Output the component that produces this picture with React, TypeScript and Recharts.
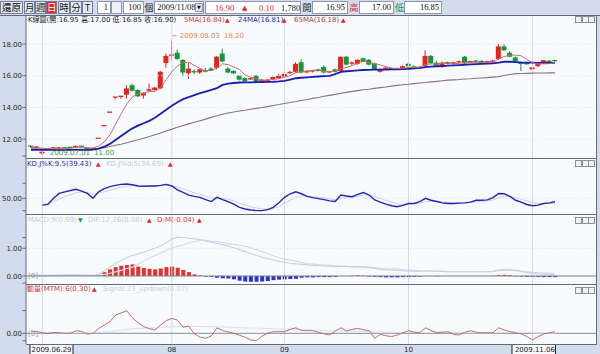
import React from 'react';
import { ComposedChart, Bar, Line, XAxis, YAxis, CartesianGrid, ReferenceLine, ReferenceDot, Cell } from 'recharts';

// ---- daily OHLC (2009.06.29 .. 2009.11.06) ----
const opens = [11.55,11.45,11.10,11.35,11.38,11.40,11.45,11.48,11.48,11.55,11.45,11.40,12.05,12.85,13.70,14.65,14.70,14.80,15.40,15.10,14.75,15.05,15.10,15.20,16.80,17.25,17.45,17.00,16.15,16.25,16.20,16.35,16.45,16.50,17.40,16.45,16.30,16.00,15.85,15.80,16.00,15.58,15.62,15.78,15.85,15.95,16.20,16.25,16.85,16.25,16.25,16.40,16.55,16.20,16.40,16.30,17.20,16.80,16.75,17.10,17.00,16.78,16.25,16.47,16.45,16.45,16.42,16.75,16.55,16.50,16.62,17.25,16.82,16.58,16.85,16.75,16.88,17.20,16.88,16.92,16.93,16.88,16.85,17.05,17.85,17.45,17.15,16.78,16.85,16.40,16.60,16.84,16.95,16.95];
const highs = [11.60,11.55,11.25,11.40,11.50,11.50,11.48,11.50,11.60,11.58,11.48,11.42,12.05,12.85,13.70,14.65,14.70,15.40,15.50,15.15,14.95,15.50,15.30,16.30,17.40,18.20,17.65,17.05,16.80,16.40,16.45,16.50,16.55,17.25,17.70,16.55,16.35,16.05,15.90,15.90,16.05,15.80,15.80,15.95,16.10,16.20,16.30,16.85,17.05,16.35,16.32,16.45,16.65,16.30,16.45,17.20,17.25,16.90,17.05,17.15,17.05,16.82,16.45,16.52,16.50,16.50,16.65,16.85,16.65,16.60,17.60,17.30,16.95,16.90,16.90,16.88,16.95,17.25,16.95,16.98,16.98,16.95,17.00,18.00,18.00,17.55,17.20,16.80,16.88,16.55,16.80,17.00,17.00,17.00];
const lows = [11.45,11.40,11.00,11.30,11.35,11.38,11.42,11.42,11.45,11.45,11.28,11.38,12.05,12.85,13.70,14.50,14.55,14.55,15.00,14.65,14.55,15.00,15.05,15.15,16.50,17.00,17.00,15.95,15.80,16.10,16.10,16.20,16.30,16.40,16.85,16.15,16.10,15.70,15.60,15.75,15.60,15.55,15.58,15.72,15.80,15.90,16.10,16.20,16.15,16.15,16.20,16.25,16.15,16.15,16.20,16.25,16.65,16.65,16.70,16.85,16.65,16.35,16.20,16.42,16.40,16.40,16.38,16.58,16.50,16.45,16.55,16.75,16.55,16.50,16.72,16.70,16.80,16.75,16.82,16.80,16.75,16.82,16.80,17.00,17.55,17.15,16.85,16.30,16.70,16.38,16.55,16.80,16.78,16.85];
const closes = [11.50,11.50,11.20,11.35,11.48,11.48,11.45,11.45,11.57,11.48,11.30,11.40,12.05,12.85,13.70,14.65,14.70,15.20,15.05,14.70,14.90,15.15,15.25,16.25,17.25,17.30,17.05,16.20,16.45,16.25,16.40,16.25,16.32,17.20,16.90,16.20,16.15,15.75,15.65,15.80,15.62,15.75,15.75,15.92,16.00,16.12,16.20,16.75,16.20,16.25,16.30,16.30,16.20,16.25,16.25,17.20,16.70,16.80,17.00,16.88,16.70,16.40,16.40,16.47,16.45,16.45,16.60,16.60,16.55,16.50,17.25,16.78,16.58,16.82,16.75,16.85,16.88,16.78,16.88,16.85,16.78,16.88,16.95,17.85,17.60,17.20,16.90,16.75,16.72,16.53,16.78,16.98,16.80,16.90];

// ---- moving averages ----
const ma5 = [11.48,11.47,11.42,11.40,11.41,11.40,11.39,11.42,11.49,11.49,11.45,11.44,11.56,11.82,12.26,12.93,13.59,14.22,14.66,14.86,14.91,15.00,15.01,15.25,15.75,16.24,16.62,16.81,16.85,16.65,16.47,16.31,16.33,16.48,16.75,16.70,16.55,16.40,16.05,15.90,15.79,15.71,15.71,15.77,15.81,15.91,16.00,16.20,16.25,16.30,16.34,16.36,16.25,16.26,16.26,16.44,16.52,16.64,16.79,16.92,16.82,16.76,16.68,16.57,16.48,16.45,16.47,16.51,16.53,16.54,16.70,16.74,16.73,16.79,16.84,16.76,16.78,16.82,16.83,16.85,16.83,16.83,16.87,17.06,17.21,17.30,17.30,17.26,17.03,16.82,16.74,16.75,16.76,16.84];
const ma24 = [11.33,11.33,11.32,11.32,11.31,11.31,11.31,11.32,11.32,11.32,11.31,11.33,11.40,11.52,11.70,11.95,12.20,12.45,12.68,12.85,13.00,13.15,13.35,13.60,13.85,14.10,14.32,14.52,14.65,14.78,14.90,15.00,15.10,15.22,15.42,15.50,15.54,15.57,15.58,15.58,15.59,15.60,15.61,15.62,15.64,15.68,15.76,15.84,15.87,15.90,15.93,15.95,15.97,15.99,16.10,16.24,16.28,16.31,16.34,16.36,16.37,16.38,16.38,16.39,16.40,16.40,16.42,16.44,16.46,16.50,16.54,16.57,16.59,16.61,16.63,16.65,16.67,16.69,16.71,16.73,16.75,16.77,16.78,16.82,16.88,16.88,16.86,16.84,16.83,16.82,16.81,16.81,16.81,16.81];
const ma65 = [11.38,11.37,11.37,11.36,11.36,11.36,11.36,11.35,11.35,11.35,11.35,11.36,11.39,11.46,11.53,11.61,11.68,11.77,11.87,11.96,12.06,12.16,12.27,12.39,12.51,12.63,12.75,12.86,12.96,13.06,13.16,13.26,13.37,13.47,13.57,13.65,13.71,13.77,13.82,13.88,13.94,13.99,14.05,14.12,14.18,14.25,14.31,14.37,14.44,14.50,14.57,14.63,14.70,14.76,14.82,14.89,14.95,15.01,15.06,15.11,15.15,15.20,15.25,15.29,15.34,15.39,15.43,15.46,15.50,15.54,15.57,15.61,15.64,15.68,15.72,15.74,15.76,15.79,15.81,15.84,15.86,15.88,15.91,15.94,16.01,16.08,16.13,16.14,16.15,16.16,16.17,16.17,16.18,16.18];

// ---- KD ----
const kLine = [null,null,29,31,50,65,70,74,78,72,65,50,70,80,86,90,93,94,92,88,87,88,88,90,93,88,76,68,60,56,53,46,40,53,46,40,32,22,17,14,12,12,15,22,36,53,64,70,64,56,52,49,46,42,40,60,57,55,62,68,60,45,38,32,27,24,28,34,34,40,50,44,40,36,34,34,35,36,38,44,44,45,52,65,64,56,44,38,31,27,29,34,36,39.43];
const dLine = [null,null,35,34,39,48,55,61,67,69,68,62,65,70,75,80,84,87,89,89,88,88,88,89,90,89,85,79,73,67,62,57,51,52,50,47,42,35,29,24,20,17,16,18,24,34,44,53,57,57,55,53,51,48,45,50,52,53,56,60,60,55,49,43,38,33,31,32,33,35,40,41,41,39,37,36,36,36,37,39,41,42,45,52,56,56,52,47,42,37,34,34,35,34.69];

// ---- MACD ----
const dif = [0.03,0.03,0.02,0.02,0.03,0.03,0.04,0.04,0.04,0.04,0.03,0.02,0.06,0.18,0.32,0.45,0.56,0.66,0.74,0.80,0.86,0.93,1.00,1.08,1.20,1.33,1.40,1.39,1.37,1.34,1.31,1.27,1.22,1.18,1.13,1.08,1.02,0.95,0.88,0.81,0.74,0.68,0.63,0.58,0.53,0.49,0.46,0.44,0.42,0.40,0.38,0.37,0.36,0.35,0.34,0.35,0.35,0.34,0.34,0.33,0.30,0.27,0.24,0.22,0.21,0.20,0.19,0.18,0.17,0.17,0.18,0.18,0.17,0.17,0.16,0.16,0.16,0.16,0.16,0.16,0.16,0.16,0.17,0.22,0.24,0.23,0.20,0.16,0.13,0.10,0.08,0.07,0.06,0.06];
const macd = [0.02,0.02,0.02,0.02,0.02,0.02,0.02,0.02,0.02,0.02,0.02,0.02,0.03,0.06,0.10,0.15,0.20,0.27,0.32,0.42,0.54,0.65,0.74,0.83,0.92,1.01,1.07,1.12,1.19,1.25,1.28,1.29,1.25,1.24,1.21,1.17,1.14,1.12,1.08,1.02,0.95,0.88,0.81,0.73,0.66,0.61,0.57,0.54,0.48,0.45,0.43,0.41,0.40,0.39,0.37,0.35,0.35,0.33,0.32,0.32,0.32,0.30,0.28,0.27,0.26,0.25,0.23,0.22,0.20,0.19,0.18,0.18,0.18,0.17,0.16,0.16,0.16,0.16,0.16,0.16,0.16,0.16,0.16,0.19,0.20,0.20,0.21,0.18,0.16,0.13,0.11,0.11,0.10,0.09];
const dm = [0.02,0.02,0.01,0.02,0.03,0.03,0.03,0.03,0.03,0.03,0.01,0.00,0.03,0.14,0.24,0.32,0.37,0.40,0.42,0.34,0.29,0.26,0.24,0.27,0.32,0.34,0.30,0.22,0.14,0.06,0.02,-0.02,-0.03,-0.06,-0.08,-0.09,-0.12,-0.17,-0.20,-0.21,-0.21,-0.20,-0.18,-0.15,-0.13,-0.12,-0.11,-0.10,-0.06,-0.05,-0.05,-0.04,-0.04,-0.04,-0.03,0.00,0.00,0.01,0.02,0.01,-0.02,-0.03,-0.04,-0.05,-0.05,-0.05,-0.04,-0.04,-0.03,-0.02,0.00,0.00,-0.01,0.00,0.00,0.00,0.00,0.00,0.00,0.00,0.00,0.00,0.01,0.03,0.04,0.03,-0.01,-0.02,-0.03,-0.03,-0.03,-0.04,-0.04,-0.04];

// ---- MTM ----
const mtm = [0.45,0.29,0.11,0.00,0.15,0.11,0.00,0.02,0.45,0.35,-0.18,0.00,0.85,1.5,2.1,3.3,3.7,4.1,2.8,1.9,1.2,0.85,0.6,1.5,2.3,2.7,2.4,1.1,1.3,-0.1,-0.7,-0.9,-0.5,1.0,0.5,0.25,0.0,-0.35,-0.7,-1.2,-1.35,-0.5,0.0,0.29,0.29,0.29,0.7,1.0,0.5,0.47,0.47,0.2,-0.1,-0.3,0.4,1.0,0.42,0.7,0.9,0.65,0.5,-0.9,-0.2,-0.45,-0.6,-0.3,0.1,0.47,0.2,0.1,1.0,0.5,0.11,0.2,0.29,-0.2,-0.3,0.2,0.47,0.2,0.11,0.11,0.11,1.0,0.6,0.3,0.11,-0.1,-0.6,-1.2,-0.6,-0.13,0.1,0.30];
const signal = [0.10,0.10,0.10,0.10,0.10,0.10,0.10,0.10,0.10,0.10,0.10,0.10,0.15,0.22,0.30,0.42,0.55,0.70,0.80,0.88,0.93,0.97,1.00,1.05,1.12,1.18,1.22,1.24,1.25,1.25,1.24,1.22,1.20,1.18,1.15,1.12,1.08,1.04,1.00,0.96,0.92,0.88,0.84,0.80,0.77,0.75,0.73,0.72,0.70,0.66,0.62,0.58,0.54,0.50,0.47,0.45,0.42,0.40,0.38,0.36,0.33,0.30,0.27,0.24,0.21,0.19,0.18,0.17,0.16,0.16,0.17,0.17,0.16,0.16,0.15,0.14,0.13,0.13,0.13,0.13,0.13,0.13,0.14,0.17,0.18,0.19,0.19,0.18,0.15,0.11,0.09,0.08,0.07,0.07];

// ---- axis labels ----
const xTickIdx = [0, 25, 45, 67, 93];
const xTickLabels = ['2009.06.29', '08', '09', '10', '2009.11.06'];
const monthStartIdx = [2, 25, 45, 67, 89];
const markIdx = [2, 25];
const markDates = ['2009.07.01', '2009.08.03'];
const toolbarButtons = ['月', '週', '日', '時', '分', 'T'];
const quoteDate = '2009/11/08';
const quoteVolume = '1,780';

const N = closes.length;
const data = closes.map((c, i) => ({
  i,
  o: opens[i], h: highs[i], l: lows[i], c,
  hl: [lows[i], highs[i]],
  up: c > opens[i] || (c === opens[i] && (i === 0 || c >= closes[i - 1])),
  ma5: ma5[i], ma24: ma24[i], ma65: ma65[i],
  k: kLine[i], d: dLine[i],
  dif: dif[i], macd: macd[i], dm: dm[i],
  mtm: mtm[i], sig: signal[i],
}));

const FONT = '"DejaVu Sans","Noto Sans CJK TC",sans-serif';
const CJK = '"Noto Sans CJK TC","DejaVu Sans",sans-serif';
const SERIF = '"Liberation Serif","DejaVu Serif",serif';
const UP = '#e6241e';
const DOWN = '#16963a';
const BG = '#d3dcef';
const PLOT = '#f7fbfe';
const FRAME = '#666a72';
const GRIDV = '#d3dae5';
const MARGIN = { top: 0, right: 4, bottom: 0, left: 0 };
const X_DOMAIN: [number, number] = [-0.887, 100.28];

const mkTick = (labeled: number[]) => (props: any) => {
  const { x, y, payload } = props;
  if (!labeled.includes(payload.value)) return <g />;
  return (
    <text x={x} y={y} dy={2.6} textAnchor="end" fontSize={7} fontFamily={FONT} fill="#2a2a2a">
      {Number(payload.value).toFixed(2)}
    </text>
  );
};

const XTick = (props: any) => {
  const { x, y, payload } = props;
  const k = xTickIdx.indexOf(payload.value);
  const label = xTickLabels[k];
  const base = y + 8;
  if (k === 0) {
    return (
      <g>
        <rect x={x - 1} y={y + 0.5} width={43} height={12} fill="#f6f8fc" stroke="#222" strokeWidth={1} />
        <text x={x + 0.5} y={base} fontSize={7} fontFamily={FONT} fill="#222">{label}</text>
      </g>
    );
  }
  if (k === xTickIdx.length - 1) {
    return (
      <g>
        <rect x={x - 43} y={y + 0.5} width={43.5} height={12} fill="#f6f8fc" stroke="#222" strokeWidth={1} />
        <text x={x} y={base} textAnchor="end" fontSize={7} fontFamily={FONT} fill="#222">{label}</text>
      </g>
    );
  }
  return <text x={x} y={base} textAnchor="middle" fontSize={7} fontFamily={FONT} fill="#222">{label}</text>;
};

const Candle = (p: any) => {
  const { x, y, width, height, payload } = p;
  if (x == null || y == null || !payload) return null;
  const { o, h, l, c, up } = payload;
  const color = up ? UP : DOWN;
  const top = Math.min(y, y + (height || 0));
  const hh = Math.abs(height || 0);
  const cx = x + width / 2;
  if (h === l || hh < 0.4) {
    return <line x1={x} x2={x + width} y1={top} y2={top} stroke={color} strokeWidth={1.3} />;
  }
  const ppu = hh / (h - l);
  const bTop = top + (h - Math.max(o, c)) * ppu;
  const bBot = top + (h - Math.min(o, c)) * ppu;
  return (
    <g>
      <line x1={cx} x2={cx} y1={top} y2={top + hh} stroke={color} strokeWidth={1} />
      {bBot - bTop < 1.2 ? (
        <line x1={x} x2={x + width} y1={bTop} y2={bTop} stroke={color} strokeWidth={1.3} />
      ) : (
        <rect x={x} y={bTop} width={width} height={bBot - bTop} fill={color} />
      )}
    </g>
  );
};

const Txt = ({ x, y, color, children, size = 7, family = FONT }: any) => (
  <div style={{ position: 'absolute', left: x, top: y, color, fontSize: size, lineHeight: '8px', whiteSpace: 'pre', fontFamily: family }}>
    {children}
  </div>
);

const Icons = ({ y }: any) => (
  <>
    {[0, 1, 2].map((j) => (
      <div key={j} style={{ position: 'absolute', left: 575 + j * 6.7, top: y, width: 5, height: 5, border: '1px solid #8a8f99', background: '#eef1f6' }} />
    ))}
  </>
);

const HLine = ({ y, x1 = 26, x2 = 597 }: any) => (
  <div style={{ position: 'absolute', left: x1, top: y, width: x2 - x1, height: 1, background: FRAME }} />
);

const Box = ({ x, w, children, color = '#111', align = 'right', bg = '#fff' }: any) => (
  <div style={{ position: 'absolute', left: x, top: 1, width: w, height: 13, boxSizing: 'border-box', border: '1px solid #8d97ab', background: bg, color, fontFamily: SERIF, fontSize: 8.5, lineHeight: '11px', textAlign: align, paddingRight: 2, whiteSpace: 'pre' }}>
    {children}
  </div>
);

const commonX = <XAxis dataKey="i" type="number" domain={X_DOMAIN} hide allowDataOverflow />;

export default function App() {
  const last = N - 1;
  const btnX = [24, 35, 46, 58, 70, 82];
  const btnW = [11, 11, 11, 12, 12, 11];
  const change = closes[last] - closes[last - 1];
  return (
    <div style={{ position: 'absolute', left: 0, top: 0, width: 600, height: 354, background: BG, overflow: 'hidden', fontFamily: FONT }}>
      {/* toolbar */}
      <div style={{ position: 'absolute', left: 0, top: 1, width: 23, height: 13, boxSizing: 'border-box', border: '1px solid #6f7d9c', background: '#e4e9f4', fontFamily: CJK, fontSize: 9.5, lineHeight: '11px', textAlign: 'center' }}>還原</div>
      {toolbarButtons.map((b, j) => (
        <div key={b} style={{ position: 'absolute', left: btnX[j], top: 1, width: btnW[j], height: 13, boxSizing: 'border-box', border: '1px solid #6f7d9c', background: b === '日' ? '#e0261f' : '#e4e9f4', color: b === '日' ? '#fff' : '#222', fontFamily: CJK, fontSize: 9.5, lineHeight: '11px', textAlign: 'center' }}>{b}</div>
      ))}
      <Box x={97} w={14}>1</Box>
      <Box x={111} w={11} bg="#eef1f7"> </Box>
      <Box x={123} w={21}>100</Box>
      <Txt x={144.5} y={3.5} color="#222" size={9} family={CJK}>個</Txt>
      <Box x={154} w={50} align="left">{' ' + quoteDate}</Box>
      <div style={{ position: 'absolute', left: 195, top: 3, width: 8, height: 9, background: '#e4e9f4', border: '1px solid #8d97ab', boxSizing: 'border-box', fontSize: 5, lineHeight: '7px', textAlign: 'center' }}>▼</div>
      <Box x={205} w={96} align="left"> </Box>
      <Txt x={215} y={4} color={UP} size={8.5} family={SERIF}>{closes[last].toFixed(2)}</Txt>
      <Txt x={242} y={4} color={UP} size={7}>▲</Txt>
      <Txt x={259} y={4} color={UP} size={8.5} family={SERIF}>{change.toFixed(2)}</Txt>
      <Txt x={281} y={4} color="#222" size={8.5} family={SERIF}>{quoteVolume}</Txt>
      <Txt x={302.5} y={3.5} color="#222" size={9} family={CJK}>開</Txt>
      <Box x={312} w={36}>{opens[last].toFixed(2)}</Box>
      <Txt x={349.5} y={3.5} color={UP} size={9} family={CJK}>高</Txt>
      <Box x={359} w={35}>{highs[last].toFixed(2)}</Box>
      <Txt x={395} y={3.5} color={DOWN} size={9} family={CJK}>低</Txt>
      <Box x={404} w={38}>{lows[last].toFixed(2)}</Box>

      {/* K panel */}
      <div style={{ position: 'absolute', left: 0, top: 16 }}>
        <ComposedChart width={600} height={142} data={data} margin={MARGIN}>
          <CartesianGrid fill={PLOT} stroke="none" horizontal={false} vertical={false} />
          {commonX}
          <YAxis type="number" domain={[10.808, 19.767]} allowDataOverflow ticks={[10.93, 12, 14, 16, 18]} interval={0} width={26} tickSize={3.5} tickMargin={0.5} axisLine={{ stroke: FRAME }} tickLine={{ stroke: FRAME }} tick={mkTick([12, 14, 16, 18])} />
          {monthStartIdx.map((m) => <ReferenceLine key={'v' + m} x={m} stroke={GRIDV} />)}
          {[12, 14, 16, 18].map((v) => <ReferenceLine key={'h' + v} y={v} stroke="#dfe4ec" strokeDasharray="1 2" />)}
          <Line dataKey="ma65" stroke="#8d7373" strokeWidth={1.1} dot={false} isAnimationActive={false} />
          <Line dataKey="ma24" stroke="#1c1cb0" strokeWidth={1.8} dot={false} isAnimationActive={false} />
          <Line dataKey="ma5" stroke="#cf6b6b" strokeWidth={1} dot={false} isAnimationActive={false} />
          <Bar dataKey="hl" barSize={5} isAnimationActive={false} shape={(p: any) => <Candle {...p} />} />
          <ReferenceDot x={markIdx[1]} y={highs[markIdx[1]]} r={0} shape={(p: any) => (
            <g>
              <line x1={p.cx + 0.5} x2={p.cx + 4.5} y1={p.cy - 5} y2={p.cy - 5} stroke="#e8874a" />
              <text x={p.cx + 8} y={p.cy - 2.4} fontSize={7} fontFamily={FONT} fill="#e8874a">
                {markDates[1]}<tspan dx={4}>{highs[markIdx[1]].toFixed(2)}</tspan>
              </text>
            </g>
          )} />
          <ReferenceDot x={markIdx[0]} y={lows[markIdx[0]]} r={0} shape={(p: any) => (
            <g>
              <text x={p.cx + 7.7} y={p.cy + 0.4} fontSize={7} fontFamily={FONT} fill="#3ea23e">
                {markDates[0]}<tspan dx={4}>{lows[markIdx[0]].toFixed(2)}</tspan>
              </text>
            </g>
          )} />
        </ComposedChart>
      </div>

      {/* KD panel */}
      <div style={{ position: 'absolute', left: 0, top: 158 }}>
        <ComposedChart width={600} height={56} data={data} margin={MARGIN}>
          <CartesianGrid fill={PLOT} stroke="none" horizontal={false} vertical={false} />
          {commonX}
          <YAxis type="number" domain={[1.54, 174.4]} allowDataOverflow ticks={[11.7, 50, 96.3]} interval={0} width={26} tickSize={3.5} tickMargin={0.5} axisLine={{ stroke: FRAME }} tickLine={{ stroke: FRAME }} tick={mkTick([50])} />
          {monthStartIdx.map((m) => <ReferenceLine key={'v' + m} x={m} stroke={GRIDV} />)}
          <ReferenceLine y={50} stroke="#dfe4ec" strokeDasharray="1 2" />
          <Line dataKey="d" stroke="#c9d1dd" strokeWidth={1} dot={false} isAnimationActive={false} />
          <Line dataKey="k" stroke="#2626b4" strokeWidth={1.4} dot={false} isAnimationActive={false} />
        </ComposedChart>
      </div>

      {/* MACD panel */}
      <div style={{ position: 'absolute', left: 0, top: 214 }}>
        <ComposedChart width={600} height={70} data={data} margin={MARGIN}>
          <CartesianGrid fill={PLOT} stroke="none" horizontal={false} vertical={false} />
          {commonX}
          <YAxis type="number" domain={[-0.289, 2.238]} allowDataOverflow ticks={[-0.26, 0, 1, 1.39]} interval={0} width={26} tickSize={3.5} tickMargin={0.5} axisLine={{ stroke: FRAME }} tickLine={{ stroke: FRAME }} tick={mkTick([0, 1])} />
          {monthStartIdx.map((m) => <ReferenceLine key={'v' + m} x={m} stroke={GRIDV} />)}
          <ReferenceLine y={1} stroke="#d9dfe8" strokeDasharray="1 2" />
          <Line dataKey="macd" stroke="#d3dbe8" strokeWidth={1.2} dot={false} isAnimationActive={false} />
          <Line dataKey="dif" stroke="#c6d3e8" strokeWidth={1.2} dot={false} isAnimationActive={false} />
          <ReferenceLine y={0} stroke="#7c8088" label={{ value: '[0]', position: 'insideLeft', fill: '#9aa0aa', fontSize: 7, offset: 2 }} />
          <Bar dataKey="dm" barSize={4} isAnimationActive={false}>
            {data.map((d, j) => <Cell key={j} fill={d.dm >= 0 ? '#e5302b' : '#2f2fd6'} />)}
          </Bar>
        </ComposedChart>
      </div>

      {/* MTM panel */}
      <div style={{ position: 'absolute', left: 0, top: 284 }}>
        <ComposedChart width={600} height={70} data={data} margin={MARGIN}>
          <CartesianGrid fill={PLOT} stroke="none" horizontal={false} vertical={false} />
          <XAxis dataKey="i" type="number" domain={X_DOMAIN} allowDataOverflow ticks={xTickIdx} interval={0} height={10} axisLine={false} tickLine={false} tickSize={0} tickMargin={0} tick={XTick} />
          <YAxis type="number" domain={[-1.945, 8.96]} allowDataOverflow ticks={[-1.35, 0, 4.11]} interval={0} width={26} tickSize={3.5} tickMargin={0.5} axisLine={{ stroke: FRAME }} tickLine={{ stroke: FRAME }} tick={mkTick([0])} />
          {monthStartIdx.map((m) => <ReferenceLine key={'v' + m} x={m} stroke={GRIDV} />)}
          <ReferenceLine y={0} stroke="#8a8e96" label={{ value: '[0]', position: 'insideLeft', fill: '#9aa0aa', fontSize: 7, offset: 2 }} />
          <Line dataKey="sig" stroke="#dde3ec" strokeWidth={1.2} dot={false} isAnimationActive={false} />
          <Line dataKey="mtm" stroke="#c96a6a" strokeWidth={1} dot={false} isAnimationActive={false} />
        </ComposedChart>
      </div>

      {/* frame lines */}
      <HLine y={15} x1={0} x2={600} />
      <HLine y={158} />
      <HLine y={214} />
      <HLine y={284} />
      <HLine y={344} />
      <div style={{ position: 'absolute', left: 596, top: 15, width: 1, height: 330, background: FRAME }} />

      {/* panel titles */}
      <Txt x={28} y={15.5} color="#222">{`K線圖(開:${opens[last].toFixed(2)} 高:${highs[last].toFixed(2)} 低:${lows[last].toFixed(2)} 收:${closes[last].toFixed(2)})`}</Txt>
      <Txt x={184} y={15.5} color="#e23c3c">{`5MA(${ma5[last].toFixed(2)})`}</Txt>
      <Txt x={225} y={15.5} color={UP} size={6}>▲</Txt>
      <Txt x={238} y={15.5} color="#2323c4">{`24MA(${ma24[last].toFixed(2)})`}</Txt>
      <Txt x={282} y={15.5} color={UP} size={6}>▲</Txt>
      <Txt x={294} y={15.5} color="#a44848">{`65MA(${ma65[last].toFixed(2)})`}</Txt>
      <Txt x={341} y={15.5} color={UP} size={6}>▲</Txt>
      <Icons y={16} />

      <Txt x={27} y={160} color="#2a2ab8">{`KD,J%K:9,5(${(kLine[last] as number).toFixed(2)})`}</Txt>
      <Txt x={96} y={160} color={UP} size={6}>▲</Txt>
      <Txt x={106} y={160} color="#c3cbd8">{`KD,J%d:5(${(dLine[last] as number).toFixed(2)})`}</Txt>
      <Txt x={168} y={160} color={UP} size={6}>▲</Txt>
      <Icons y={160} />

      <Txt x={28} y={215.5} color="#c3cbd8">{`MACD:9(${macd[last].toFixed(2)})`}</Txt>
      <Txt x={78} y={215.5} color="#1f9b2f" size={6}>▼</Txt>
      <Txt x={88} y={215.5} color="#c3cbd8">{`DIF:12,26(${dif[last].toFixed(2)})`}</Txt>
      <Txt x={147} y={215.5} color={UP} size={6}>▲</Txt>
      <Txt x={157} y={215.5} color="#e23c3c">{`D-M(${dm[last].toFixed(2)})`}</Txt>
      <Txt x={197} y={215.5} color={UP} size={6}>▲</Txt>
      <Icons y={217} />

      <Txt x={27} y={285} color="#d03a3a">{`動量(MTM):6(${mtm[last].toFixed(2)})`}</Txt>
      <Txt x={92} y={285} color={UP} size={6}>▲</Txt>
      <Txt x={103} y={285} color="#c8d0dc">{`Signal:23_updown(${signal[last].toFixed(2)})`}</Txt>
      <Icons y={287} />
    </div>
  );
}
